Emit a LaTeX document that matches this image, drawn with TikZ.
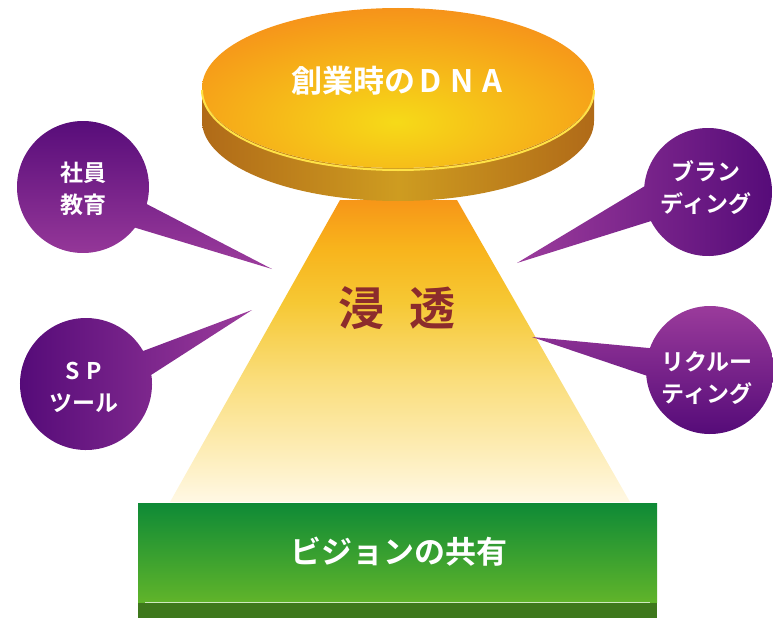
\documentclass[tikz,border=0pt]{standalone}
\usepackage{fontspec}
\newfontfamily\jp{Noto Sans CJK JP}[BoldFont={Noto Sans CJK JP Bold}]
\usetikzlibrary{calc}
\definecolor{orangeA}{RGB}{246,134,26}
\definecolor{yellowA}{RGB}{246,218,24}
\definecolor{goldL}{RGB}{176,106,24}
\definecolor{goldM}{RGB}{206,156,32}
\definecolor{rimY}{RGB}{255,226,70}
\definecolor{seep}{RGB}{140,44,44}
\definecolor{greenT}{RGB}{14,138,54}
\definecolor{greenB}{RGB}{96,180,42}
\definecolor{greenD}{RGB}{62,120,28}
\definecolor{purD}{RGB}{84,10,120}
\definecolor{purL}{RGB}{156,60,156}
\definecolor{cone0}{RGB}{255,248,228}
\definecolor{cone1}{RGB}{253,236,180}
\definecolor{cone2}{RGB}{250,222,125}
\definecolor{cone3}{RGB}{246,200,52}
\definecolor{cone4}{RGB}{248,180,28}
\definecolor{cone5}{RGB}{247,150,24}
\pgfdeclareverticalshading{coneshade}{100bp}{%
  color(0bp)=(cone0);
  color(25bp)=(cone0);
  color(34bp)=(cone1);
  color(45bp)=(cone2);
  color(58bp)=(cone3);
  color(67bp)=(cone4);
  color(75bp)=(cone5);
  color(100bp)=(cone5)}
\tikzset{
  whitetxt/.style={text=white,font=\jp\bfseries,inner sep=0pt,align=center},
  bigtxt/.style={whitetxt,font=\jp\bfseries\fontsize{31}{31}\selectfont},
  bubbletxt/.style={whitetxt,font=\jp\bfseries\fontsize{23}{32}\selectfont},
}
\begin{document}
\begin{tikzpicture}[x=1pt,y=-1pt]
\useasboundingbox (0,0) rectangle (773,618);
% light cone
\shade[shading=coneshade] (340,200) -- (457,200) -- (630,502) -- (170,502) -- cycle;
% disc side
\shade[left color=goldL,right color=goldL,middle color=goldM]
  (202,88) -- (202,121) arc[start angle=180,end angle=0,x radius=196,y radius=80] -- (594,88)
  arc[start angle=0,end angle=180,x radius=196,y radius=80] -- cycle;
% disc top
\begin{scope}
\clip (398,88) ellipse[x radius=196,y radius=80];
\shade[inner color=yellowA,outer color=orangeA] (396,122) ellipse[x radius=310,y radius=135];
\end{scope}
\draw[rimY,line width=2pt] (202,90) arc[start angle=180,end angle=0,x radius=196,y radius=80];
\node[bigtxt] (dna) at (397,81) {創業時の\kern4pt D\kern9pt N\kern9pt A};
% seep text
\node[text=seep,font=\jp\bfseries\fontsize{46}{46}\selectfont,inner sep=0pt] (seep) at (397,308) {浸\hspace{26pt}透};
% green bar
\shade[top color=greenT,bottom color=greenB] (138,503) rectangle (657,602);
\fill[greenD] (138,603) rectangle (657,618);
\draw[white!70!greenB,line width=1.2pt] (145,602.5) -- (650,602.5);
\node[bigtxt] (vision) at (399,552) {ビジョンの共有};
% bubble 1
\coordinate (c1) at (83,187);
\shade[top color=purD,bottom color=purL]
  ($(c1)+(15:66)$) -- (272,269) -- ($(c1)+(38:66)$) arc[start angle=38,end angle=375,radius=66] -- cycle;
\node[bubbletxt] (t1) at (83,189) {社員\\教育};
% bubble 2
\coordinate (c2) at (86,384);
\shade[shading angle=135,left color=purD,right color=purL]
  ($(c2)+(-30:66)$) -- (252,310) -- ($(c2)+(-8:66)$) arc[start angle=-8,end angle=330,radius=66] -- cycle;
\node[bubbletxt] (t2) at (84,387) {S\kern7pt P\\ツール};
% bubble 3
\coordinate (c3) at (708,192);
\shade[shading angle=-45,left color=purL,right color=purD]
  ($(c3)+(185:64)$) -- (517,263) -- ($(c3)+(153:64)$) arc[start angle=153,end angle=-175,radius=64] -- cycle;
\node[bubbletxt] (t3) at (706,188) {ブラン\\ディング};
% bubble 4
\coordinate (c4) at (710,370);
\shade[top color=purL,bottom color=purD]
  ($(c4)+(200:64)$) -- (532,337) -- ($(c4)+(175:64)$) arc[start angle=175,end angle=-160,radius=64] -- cycle;
\node[bubbletxt] (t4) at (707,378) {リクルー\\ティング};
\end{tikzpicture}
\end{document}
